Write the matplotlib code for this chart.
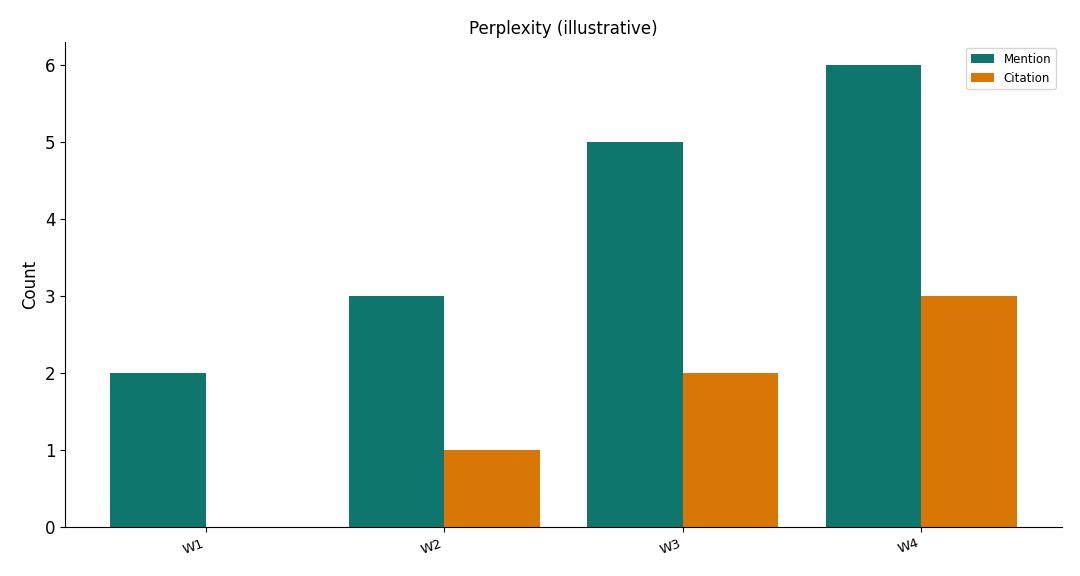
import matplotlib
matplotlib.use("Agg")
import matplotlib.pyplot as plt
import numpy as np

categories = ["W1", "W2", "W3", "W4"]
mention = [2, 3, 5, 6]
citation = [0, 1, 2, 3]

fig = plt.figure(figsize=(10.8, 5.76), dpi=100)
ax = fig.add_axes([65/1080, 1-527/576, (1062-65)/1080, (527-42)/576])
x = np.arange(len(categories))
w = 0.4
ax.bar(x - w/2, mention, w, color="#0f766e", label="Mention")
ax.bar(x + w/2, citation, w, color="#d97706", label="Citation")
ax.set_xticks(x)
ax.set_xticklabels(categories, rotation=20, ha="right", fontsize=9.5)
ax.tick_params(axis="y", labelsize=12)
ax.set_ylabel("Count", fontsize=12)
ax.set_title("Perplexity (illustrative)", fontsize=12)
ax.set_xlim(-0.59, 3.59)
ax.set_ylim(0, 6.3)
ax.spines["top"].set_visible(False)
ax.spines["right"].set_visible(False)
ax.legend(fontsize=8.5, loc="upper right")
fig.savefig("out.png", dpi=100)
